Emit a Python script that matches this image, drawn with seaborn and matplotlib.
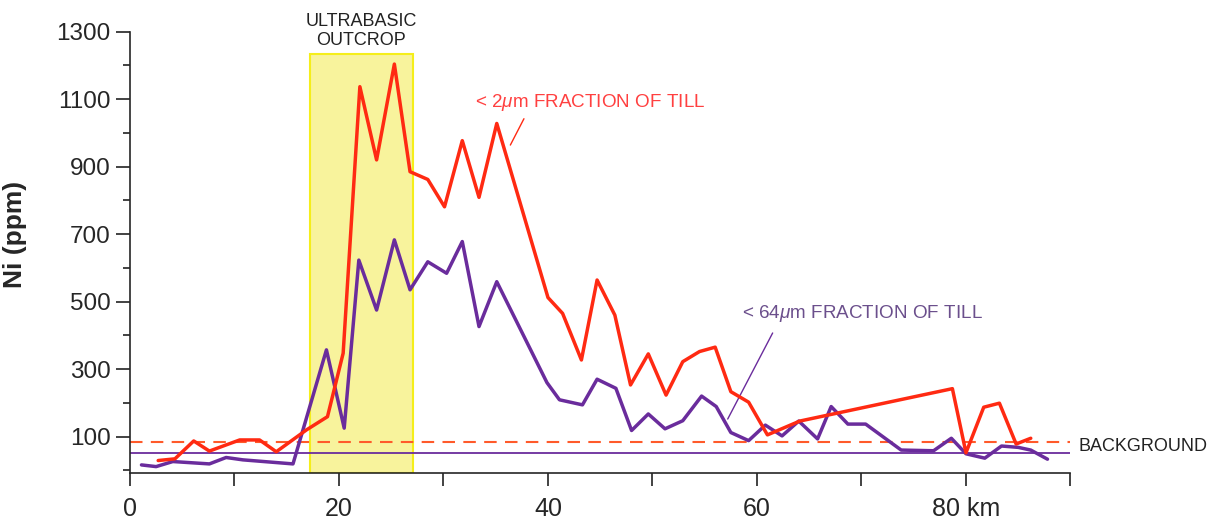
import numpy as np
import pandas as pd
import matplotlib
matplotlib.use("Agg")
import matplotlib.pyplot as plt
import seaborn as sns
from matplotlib.patches import Rectangle

# ---- data ----
km_fine = [2.7, 4.3, 6.1, 7.6, 10.5, 12.4, 14.0, 16.9, 18.9, 20.4, 22.0, 23.6, 25.3, 26.8,
           28.5, 30.1, 31.8, 33.4, 35.1, 40.0, 41.4, 43.2, 44.7, 46.4, 47.9, 49.6, 51.3,
           52.9, 54.5, 56.0, 57.5, 59.2, 61.0, 64.1, 78.7, 80.0, 81.7, 83.2, 84.8, 86.2]
ni_fine = [29, 34, 87, 57, 90, 90, 55, 120, 159, 347, 1137, 920, 1204, 885,
           862, 781, 977, 809, 1028, 512, 465, 327, 564, 460, 253, 345, 223,
           322, 352, 365, 233, 202, 105, 146, 242, 52, 187, 199, 78, 95]

km_coarse = [1.1, 2.5, 4.1, 7.6, 9.2, 10.8, 15.6, 18.8, 20.5, 21.9, 23.6, 25.3, 26.8, 28.5,
             30.3, 31.8, 33.4, 35.1, 39.9, 41.1, 43.3, 44.7, 46.5, 48.0, 49.6, 51.2, 52.9,
             54.7, 56.1, 57.5, 59.2, 60.8, 62.4, 64.0, 65.8, 67.1, 68.7, 70.4, 73.8, 76.9,
             78.6, 80.0, 81.8, 83.4, 85.0, 86.2, 87.8]
ni_coarse = [16, 11, 26, 19, 38, 31, 19, 357, 125, 623, 475, 683, 535, 618,
             584, 678, 426, 559, 260, 209, 194, 270, 243, 118, 167, 123, 147,
             220, 189, 112, 88, 134, 102, 146, 93, 189, 137, 137, 60, 58,
             95, 49, 36, 72, 68, 60, 33]

background_fine = 85
background_coarse = 52
outcrop_km = [17.2, 27.05]
outcrop_top = 1234

x_ticks = [0, 10, 20, 30, 40, 50, 60, 70, 80, 90]
x_labels = ["0", "", "20", "", "40", "", "60", "", "80 km", ""]
y_major = [100, 300, 500, 700, 900, 1100, 1300]
y_minor = [0, 200, 400, 600, 800, 1000, 1200]

RED = "#ff2a12"
PURPLE = "#6a2c9c"

sns.set_style("ticks")
plt.rcParams["font.family"] = ["Liberation Sans", "DejaVu Sans"]
plt.rcParams["mathtext.fontset"] = "custom"
plt.rcParams["mathtext.it"] = "Liberation Sans:italic"
plt.rcParams["mathtext.rm"] = "Liberation Sans"

fig = plt.figure(figsize=(12.17, 5.21), dpi=100)
ax = fig.add_axes([0.1068, 0.0921, 0.7728, 0.8471])

ylo = -8
ax.add_patch(Rectangle((outcrop_km[0], ylo), outcrop_km[1] - outcrop_km[0], outcrop_top - ylo,
                       facecolor="#f8f39c", edgecolor="#f5ee1a", linewidth=1.5, zorder=0))

ax.axhline(background_fine, color="#ff5a2a", lw=1.5, ls=(0, (6, 4)), zorder=1)
ax.axhline(background_coarse, color=PURPLE, lw=1.3, zorder=1)

df_f = pd.DataFrame({"km": km_fine, "ni": ni_fine})
df_c = pd.DataFrame({"km": km_coarse, "ni": ni_coarse})
sns.lineplot(data=df_c, x="km", y="ni", ax=ax, color=PURPLE, lw=2.5, sort=False,
             estimator=None, zorder=3)
sns.lineplot(data=df_f, x="km", y="ni", ax=ax, color=RED, lw=2.5, sort=False,
             estimator=None, zorder=4)

ax.set_xlim(0, 90)
ax.set_ylim(ylo, 1300)
sns.despine(ax=ax)
ax.spines["left"].set_linewidth(1.2)
ax.spines["bottom"].set_linewidth(1.2)

ax.set_xticks(x_ticks)
ax.set_xticklabels(x_labels)
ax.set_yticks(y_major)
ax.set_yticks(y_minor, minor=True)
ax.tick_params(axis="x", length=9, width=1.2, pad=8, labelsize=18, color="#222222")
ax.tick_params(axis="y", which="major", length=10, width=1.2, pad=4, labelsize=17.5, color="#222222")
ax.tick_params(axis="y", which="minor", length=5, width=1.2, color="#222222")

ax.set_xlabel("")
ax.set_ylabel("Ni (ppm)", fontsize=19, fontweight="bold")
ax.yaxis.set_label_coords(-0.109, 0.54)

ax.text(22.1, 1303, "ULTRABASIC\nOUTCROP", ha="center", va="center", fontsize=13,
        color="#222222", linespacing=1.15, clip_on=False)
ax.text(33.0, 1091, r"< 2$\mathit{\mu}$m FRACTION OF TILL", ha="left", va="center",
        fontsize=13.6, color="#ff4040")
ax.plot([37.7, 36.4], [1042, 964], color=RED, lw=1.0)
ax.text(58.6, 466, r"< 64$\mathit{\mu}$m FRACTION OF TILL", ha="left", va="center",
        fontsize=13.6, color="#6b4f8c")
ax.plot([61.5, 57.2], [407, 152], color=PURPLE, lw=1.0)
ax.text(90.8, 72, "BACKGROUND", ha="left", va="center", fontsize=13, color="#222222",
        clip_on=False)

fig.savefig("out.png", dpi=100, facecolor="white")
